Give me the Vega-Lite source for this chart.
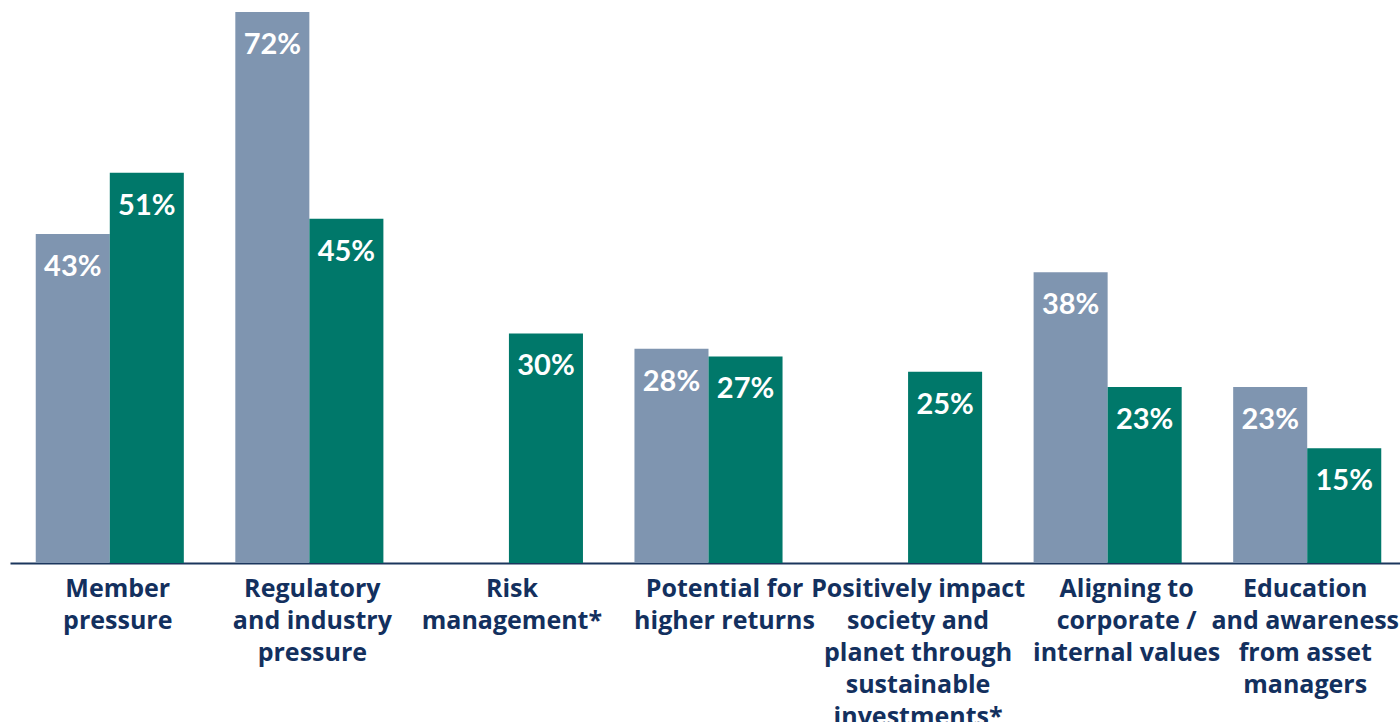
{
  "$schema": "https://vega.github.io/schema/vega-lite/v6.json",
  "autosize": "none",
  "width": 1397,
  "height": 551,
  "padding": {"left": 10, "top": 12, "right": 0, "bottom": 159},
  "background": "white",
  "title": {
    "text": "Australian results",
    "anchor": "start",
    "orient": "top",
    "offset": 8,
    "dx": -14,
    "baseline": "alphabetic",
    "font": "Open Sans",
    "fontSize": 26,
    "fontWeight": "bold",
    "color": "#1565d0"
  },
  "data": {
    "values": [
      {"driver": "Member|pressure", "survey": "prior", "pct": 43},
      {"driver": "Member|pressure", "survey": "current", "pct": 51},
      {"driver": "Regulatory|and industry|pressure", "survey": "prior", "pct": 72},
      {"driver": "Regulatory|and industry|pressure", "survey": "current", "pct": 45},
      {"driver": "Risk|management*", "survey": "current", "pct": 30},
      {"driver": "Potential for|higher returns", "survey": "prior", "pct": 28},
      {"driver": "Potential for|higher returns", "survey": "current", "pct": 27},
      {"driver": "Positively impact|society and|planet through|sustainable|investments*", "survey": "current", "pct": 25},
      {"driver": "Aligning to|corporate /|internal values", "survey": "prior", "pct": 38},
      {"driver": "Aligning to|corporate /|internal values", "survey": "current", "pct": 23},
      {"driver": "Education|and awareness|from asset|managers", "survey": "prior", "pct": 23},
      {"driver": "Education|and awareness|from asset|managers", "survey": "current", "pct": 15}
    ]
  },
  "transform": [
    {"calculate": "datum.pct + '%'", "as": "pct_label"}
  ],
  "encoding": {
    "x": {
      "field": "driver",
      "type": "nominal",
      "sort": null,
      "scale": {"paddingInner": 0.258, "paddingOuter": 0.129},
      "axis": {
        "title": null,
        "labelAngle": 0,
        "labelExpr": "split(datum.label, '|')",
        "labelFont": "Open Sans",
        "labelFontSize": 25,
        "labelFontWeight": "bold",
        "labelColor": "#13305e",
        "labelLineHeight": 32,
        "labelPadding": 13,
        "labelOffset": {
          "condition": [
            {"test": "indexof(datum.value, 'Potential') == 0", "value": 16},
            {"test": "indexof(datum.value, 'Aligning') == 0", "value": 19},
            {"test": "indexof(datum.value, 'Positively') == 0", "value": 10},
            {"test": "indexof(datum.value, 'Education') == 0", "value": -2},
            {"test": "indexof(datum.value, 'Member') == 0", "value": 8}
          ],
          "value": 3
        },
        "labelLimit": 0,
        "labelBaseline": "top",
        "labelFlush": false,
        "labelOverlap": false,
        "ticks": false,
        "domainColor": "#1b365d",
        "domainWidth": 2
      }
    },
    "xOffset": {"field": "survey", "type": "nominal", "scale": {"domain": ["prior", "current"]}},
    "y": {
      "field": "pct",
      "type": "quantitative",
      "scale": {"domain": [0, 72], "nice": false},
      "axis": null
    }
  },
  "layer": [
    {
      "mark": {"type": "bar"},
      "encoding": {
        "color": {
          "field": "survey",
          "type": "nominal",
          "scale": {"domain": ["prior", "current"], "range": ["#7f95b0", "#00786a"]},
          "legend": null
        }
      }
    },
    {
      "mark": {
        "type": "text",
        "color": "white",
        "font": "Lato",
        "fontSize": 29,
        "fontWeight": "bold",
        "baseline": "middle",
        "align": "center",
        "dy": 33
      },
      "encoding": {
        "text": {"field": "pct_label", "type": "nominal"}
      }
    }
  ],
  "config": {
    "view": {"stroke": null}
  }
}
